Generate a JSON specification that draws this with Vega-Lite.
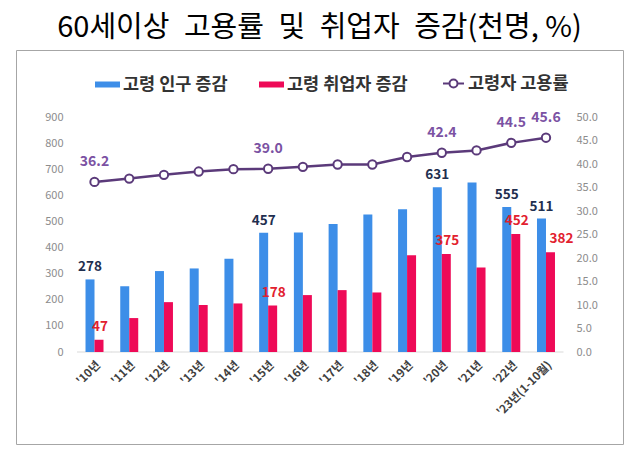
{
  "$schema": "https://vega.github.io/schema/vega-lite/v6.json",
  "width": 607,
  "height": 394,
  "autosize": "none",
  "padding": {"left": 16, "top": 50, "right": 5, "bottom": 15},
  "background": "white",
  "config": {
    "view": {"stroke": "#a6a6a6", "strokeWidth": 1},
    "font": "Noto Sans CJK KR",
    "axis": {"labelOverlap": false}
  },
  "title": {
    "text": "60세이상\u2002고용률\u2002및\u2002취업자\u2002증감(천명, %)",
    "fontSize": 29,
    "fontWeight": "normal",
    "color": "#000000",
    "font": "Noto Sans CJK KR",
    "anchor": "middle",
    "offset": 7
  },
  "data": {
    "values": [
      {"year": "'10년", "고령 인구 증감": 278, "고령 취업자 증감": 47, "고령자 고용률": 36.2},
      {"year": "'11년", "고령 인구 증감": 252, "고령 취업자 증감": 130, "고령자 고용률": 36.9},
      {"year": "'12년", "고령 인구 증감": 310, "고령 취업자 증감": 191, "고령자 고용률": 37.7},
      {"year": "'13년", "고령 인구 증감": 320, "고령 취업자 증감": 180, "고령자 고용률": 38.4},
      {"year": "'14년", "고령 인구 증감": 357, "고령 취업자 증감": 186, "고령자 고용률": 38.9},
      {"year": "'15년", "고령 인구 증감": 457, "고령 취업자 증감": 178, "고령자 고용률": 39.0},
      {"year": "'16년", "고령 인구 증감": 458, "고령 취업자 증감": 218, "고령자 고용률": 39.4},
      {"year": "'17년", "고령 인구 증감": 490, "고령 취업자 증감": 237, "고령자 고용률": 39.9},
      {"year": "'18년", "고령 인구 증감": 527, "고령 취업자 증감": 228, "고령자 고용률": 39.9},
      {"year": "'19년", "고령 인구 증감": 547, "고령 취업자 증감": 371, "고령자 고용률": 41.5},
      {"year": "'20년", "고령 인구 증감": 631, "고령 취업자 증감": 375, "고령자 고용률": 42.4},
      {"year": "'21년", "고령 인구 증감": 649, "고령 취업자 증감": 324, "고령자 고용률": 42.9},
      {"year": "'22년", "고령 인구 증감": 555, "고령 취업자 증감": 452, "고령자 고용률": 44.5},
      {"year": "'23년(1-10월)", "고령 인구 증감": 511, "고령 취업자 증감": 382, "고령자 고용률": 45.6}
    ]
  },
  "layer": [
    {
      "layer": [
        {
          "mark": {"type": "tick", "orient": "horizontal", "size": 35, "thickness": 1, "color": "#d9d9d9", "opacity": 1},
          "encoding": {
            "x": {
              "field": "year", "type": "nominal", "sort": null,
              "scale": {
                "domain": [" ", "'10년", "'11년", "'12년", "'13년", "'14년", "'15년", "'16년", "'17년", "'18년", "'19년", "'20년", "'21년", "'22년", "'23년(1-10월)", "  "],
                "paddingInner": 0.482, "paddingOuter": 0.98, "align": 0.511
              },
              "axis": {
                "title": null, "orient": "bottom", "offset": -92, "domain": false, "ticks": false,
                "labelAngle": -45, "labelFontSize": 11.5, "labelFontWeight": "bold",
                "labelColor": "#404040", "labelPadding": 7, "labelFont": "Noto Sans CJK KR",
                "labelOverlap": false
              }
            },
            "y": {
              "datum": 0, "type": "quantitative",
              "scale": {"domain": [-352.3, 1156.6], "nice": false, "zero": false},
              "axis": {
                "title": null, "orient": "left", "offset": -48,
                "values": [0, 100, 200, 300, 400, 500, 600, 700, 800, 900], "tickCount": 20,
                "domain": false, "ticks": false, "grid": false, "labelOverlap": false,
                "labelColor": "#8c8c8c", "labelFontSize": 11, "labelPadding": 1, "labelFont": "Noto Sans CJK KR"
              }
            }
          }
        },
        {
          "transform": [{"fold": ["고령 인구 증감", "고령 취업자 증감"], "as": ["series", "value"]}],
          "mark": {"type": "bar"},
          "encoding": {
            "x": {"field": "year", "type": "nominal", "sort": null},
            "xOffset": {
              "field": "series", "type": "nominal",
              "scale": {"domain": ["고령 인구 증감", "고령 취업자 증감"], "paddingInner": 0, "paddingOuter": 0}
            },
            "y": {"field": "value", "type": "quantitative"},
            "y2": {"datum": 0},
            "color": {
              "field": "series", "type": "nominal",
              "scale": {"domain": ["고령 인구 증감", "고령 취업자 증감"], "range": ["#3d8ee8", "#ee0a57"]},
              "legend": {
                "orient": "none", "legendX": 79, "legendY": 22, "direction": "horizontal",
                "title": null,
                "symbolType": "M-1,-0.24L1,-0.24L1,0.24L-1,0.24Z",
                "symbolSize": 625,
                "symbolStrokeWidth": 0,
                "labelFontSize": 17.5, "labelFontWeight": "bold", "labelColor": "#333333",
                "labelFont": "Noto Sans CJK KR", "columnPadding": 31, "labelOffset": 3, "padding": 0
              }
            }
          }
        },
        {
          "transform": [
            {"fold": ["고령 인구 증감", "고령 취업자 증감"], "as": ["series", "value"]},
            {"filter": {"field": "series", "equal": "고령 인구 증감"}},
            {"filter": {"field": "year", "oneOf": ["'10년", "'15년", "'20년", "'22년", "'23년(1-10월)"]}}
          ],
          "mark": {"type": "text", "baseline": "alphabetic", "dy": -8, "fontSize": 13.5, "fontWeight": "bold", "color": "#1f2f4f", "font": "Noto Sans CJK KR"},
          "encoding": {
            "x": {"field": "year", "type": "nominal", "sort": null},
            "xOffset": {"field": "series", "type": "nominal"},
            "y": {"field": "value", "type": "quantitative"},
            "text": {"field": "value", "type": "quantitative"}
          }
        },
        {
          "transform": [
            {"fold": ["고령 인구 증감", "고령 취업자 증감"], "as": ["series", "value"]},
            {"filter": {"field": "series", "equal": "고령 취업자 증감"}},
            {"filter": {"field": "year", "oneOf": ["'10년", "'15년", "'20년", "'22년"]}}
          ],
          "mark": {"type": "text", "baseline": "alphabetic", "dy": -9, "dx": 1, "fontSize": 13.5, "fontWeight": "bold", "color": "#e2202e", "font": "Noto Sans CJK KR"},
          "encoding": {
            "x": {"field": "year", "type": "nominal", "sort": null},
            "xOffset": {"field": "series", "type": "nominal"},
            "y": {"field": "value", "type": "quantitative"},
            "text": {"field": "value", "type": "quantitative"}
          }
        },
        {
          "transform": [
            {"fold": ["고령 인구 증감", "고령 취업자 증감"], "as": ["series", "value"]},
            {"filter": {"field": "series", "equal": "고령 취업자 증감"}},
            {"filter": {"field": "year", "equal": "'23년(1-10월)"}}
          ],
          "mark": {"type": "text", "baseline": "alphabetic", "dy": -9, "dx": 11, "fontSize": 13.5, "fontWeight": "bold", "color": "#e2202e", "font": "Noto Sans CJK KR"},
          "encoding": {
            "x": {"field": "year", "type": "nominal", "sort": null},
            "xOffset": {"field": "series", "type": "nominal"},
            "y": {"field": "value", "type": "quantitative"},
            "text": {"field": "value", "type": "quantitative"}
          }
        }
      ]
    },
    {
      "layer": [
        {
          "mark": {"type": "line", "strokeWidth": 2.5},
          "encoding": {
            "x": {"field": "year", "type": "nominal", "sort": null},
            "y": {
              "field": "고령자 고용률", "type": "quantitative",
              "scale": {"domain": [-19.57, 64.26], "nice": false, "zero": false},
              "axis": {
                "title": null, "orient": "right", "offset": -48,
                "values": [0, 5, 10, 15, 20, 25, 30, 35, 40, 45, 50], "tickCount": 20, "format": ".1f",
                "domain": false, "ticks": false, "grid": false, "labelOverlap": false,
                "labelColor": "#8c8c8c", "labelFontSize": 11, "labelPadding": 1, "labelFont": "Noto Sans CJK KR"
              }
            },
            "stroke": {
              "datum": "고령자 고용률", "type": "nominal",
              "scale": {"domain": ["고령자 고용률"], "range": ["#5b3a7a"]},
              "legend": {
                "orient": "none", "legendX": 426, "legendY": 22,
                "title": null,
                "symbolType": "M-1,0L-0.38,0M0.38,0L1,0M-0.38,0A0.38,0.38,0,1,1,0.38,0A0.38,0.38,0,1,1,-0.38,0Z",
                "symbolSize": 441,
                "symbolStrokeWidth": 2,
                "symbolFillColor": "white",
                "labelFontSize": 17.5, "labelFontWeight": "bold", "labelColor": "#333333",
                "labelFont": "Noto Sans CJK KR", "labelOffset": 3, "padding": 0
              }
            }
          }
        },
        {
          "mark": {"type": "point", "filled": true, "fill": "white", "stroke": "#5b3a7a", "strokeWidth": 2, "size": 70, "opacity": 1},
          "encoding": {
            "x": {"field": "year", "type": "nominal", "sort": null},
            "y": {"field": "고령자 고용률", "type": "quantitative"}
          }
        },
        {
          "transform": [
            {"filter": {"field": "year", "oneOf": ["'10년", "'15년", "'20년", "'22년", "'23년(1-10월)"]}}
          ],
          "mark": {"type": "text", "baseline": "alphabetic", "dy": -16, "fontSize": 14, "fontWeight": "bold", "color": "#7b52a3", "font": "Noto Sans CJK KR"},
          "encoding": {
            "x": {"field": "year", "type": "nominal", "sort": null},
            "y": {"field": "고령자 고용률", "type": "quantitative"},
            "text": {"field": "고령자 고용률", "type": "quantitative", "format": ".1f"}
          }
        }
      ]
    }
  ],
  "resolve": {"scale": {"y": "independent"}}
}
